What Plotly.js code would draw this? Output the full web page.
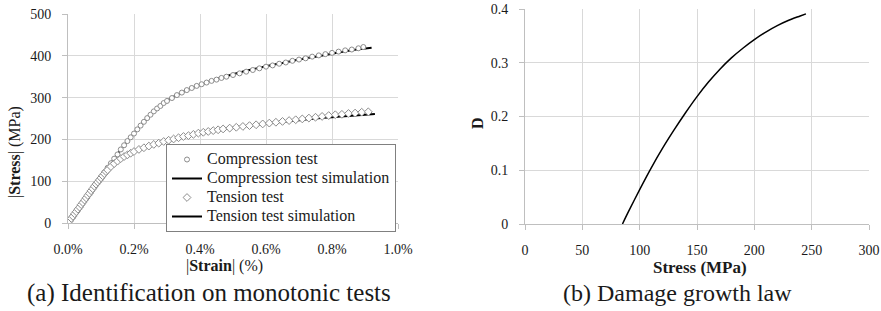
<!DOCTYPE html>
<html><head><meta charset="utf-8">
<script src="https://cdn.plot.ly/plotly-3.0.1.min.js"></script>
<style>html,body{margin:0;padding:0;background:#fff}</style>
</head><body><div id="chart" style="width:881px;height:311px"></div>
<script>
// ---- Data ----
const compTestStrain = [0.000,0.005,0.010,0.015,0.020,0.025,0.030,0.035,0.040,0.045,0.050,0.055,0.060,0.065,0.070,0.075,0.080,0.085,0.090,0.095,0.100,0.110,0.120,0.130,0.140,0.150,0.160,0.170,0.180,0.190,0.200,0.210,0.220,0.230,0.240,0.250,0.260,0.270,0.280,0.290,0.300,0.315,0.330,0.345,0.360,0.375,0.390,0.405,0.420,0.435,0.450,0.465,0.480,0.500,0.520,0.540,0.560,0.580,0.600,0.620,0.640,0.660,0.680,0.700,0.720,0.740,0.760,0.780,0.800,0.820,0.840,0.860,0.880,0.895];
const compTestStress = [0,5,11,17,22,28,33,39,44,50,55,61,66,72,77,83,88,94,99,104,110,121,132,143,154,164,176,186,196,205,214,224,233,242,251,259,267,274,280,287,292,299,306,312,318,323,328,332,336,340,343,347,350,354,358,362,366,370,374,377,381,384,388,391,394,398,401,404,407,410,413,415,418,421];
const compSimStrain = [0,0.05,0.10,0.15,0.20,0.25,0.30,0.35,0.40,0.45,0.50,0.55,0.60,0.65,0.70,0.75,0.80,0.85,0.92];
const compSimStress = [0,55,110,165,215,258,292,314,330,344,356,366,375,383,391,398,405,412,419];
const tensTestStrain = [0,0.005,0.01,0.015,0.02,0.025,0.03,0.035,0.04,0.045,0.05,0.055,0.06,0.065,0.07,0.075,0.08,0.085,0.09,0.095,0.10,0.105,0.11,0.115,0.12,0.13,0.14,0.15,0.16,0.17,0.18,0.19,0.20,0.215,0.23,0.245,0.26,0.275,0.29,0.305,0.32,0.335,0.35,0.365,0.38,0.395,0.41,0.425,0.44,0.455,0.47,0.49,0.51,0.53,0.55,0.57,0.59,0.61,0.63,0.65,0.67,0.69,0.71,0.73,0.75,0.77,0.79,0.81,0.83,0.85,0.87,0.89,0.91];
const tensTestStress = [0,5,11,16,22,27,33,38,44,49,55,60,66,71,77,82,88,93,98,103,108,113,118,123,127,135,142,148,154,159,163,167,171,176,180,184,188,191,195,198,201,204,207,209,212,215,217,219,221,223,225,227,229,231,233,235,237,239,241,243,245,247,249,251,253,255,257,259,260,262,263,265,266];
const tensSimStrain = [0,0.05,0.10,0.12,0.14,0.16,0.18,0.20,0.25,0.30,0.35,0.40,0.45,0.50,0.55,0.60,0.65,0.70,0.75,0.80,0.85,0.93];
const tensSimStress = [0,55,108,125,140,152,162,170,184,196,206,214,221,228,233,238,242,246,250,253,256,261];
const damageStress = [85,90,100,110,120,130,140,150,160,170,180,190,200,210,220,230,240,245];
const damageD = [0,0.022,0.064,0.104,0.141,0.175,0.207,0.237,0.264,0.288,0.309,0.327,0.343,0.357,0.369,0.379,0.387,0.391];
const legendNames = ['Compression test','Compression test simulation','Tension test','Tension test simulation'];
const captions = ['(a) Identification on monotonic tests','(b) Damage growth law'];

// ---- Layout helpers ----
const W = 881, H = 311;
const px = x => x / W, py = y => 1 - y / H;
const FONT = 'Liberation Serif';
const GRID = '#d9d9d9', AX = '#bfbfbf', TXT = '#1a1a1a';
const legName = s => '<span style="font-size:16px">' + s + '</span>';

const mk = {color:'#fff', size:5, line:{color:'#8c8c8c', width:1}};
const data = [
  {x:compSimStrain, y:compSimStress, mode:'lines', name:legName(legendNames[1]), line:{color:'#000', width:2, shape:'spline', smoothing:0.6}, legendrank:2, xaxis:'x', yaxis:'y'},
  {x:tensSimStrain, y:tensSimStress, mode:'lines', name:legName(legendNames[3]), line:{color:'#000', width:2, shape:'spline', smoothing:0.6}, legendrank:4, xaxis:'x', yaxis:'y'},
  {x:compTestStrain, y:compTestStress, mode:'markers', name:legName(legendNames[0]), marker:Object.assign({symbol:'circle'}, mk), legendrank:1, xaxis:'x', yaxis:'y'},
  {x:tensTestStrain, y:tensTestStress, mode:'markers', name:legName(legendNames[2]), marker:Object.assign({symbol:'diamond'}, mk, {size:6}), legendrank:3, xaxis:'x', yaxis:'y'},
  {x:damageStress, y:damageD, mode:'lines', showlegend:false, line:{color:'#000', width:1.5, shape:'spline', smoothing:0.8}, xaxis:'x2', yaxis:'y2'}
];

const axBase = {showgrid:true, gridcolor:GRID, gridwidth:1, showline:true, linecolor:AX, linewidth:1,
  ticks:'outside', ticklen:5, tickcolor:AX, zeroline:false, ticklabelstandoff:8, tickfont:{family:FONT, size:14, color:TXT}};

const ann = (text, x, y, size, angle) => ({text, x:px(x), y:py(y), xref:'paper', yref:'paper', xanchor:'center', yanchor:'middle',
  showarrow:false, textangle:angle || 0, font:{family:FONT, size, color:TXT}});

const layout = {
  width:W, height:H, margin:{l:0,r:0,t:0,b:0}, paper_bgcolor:'#fff', plot_bgcolor:'#fff',
  font:{family:FONT, color:TXT},
  xaxis:Object.assign({}, axBase, {domain:[px(68), px(398)], range:[0,1], dtick:0.2, tickformat:'.1f', ticksuffix:'%', anchor:'y'}),
  yaxis:Object.assign({}, axBase, {domain:[py(223), py(14)], range:[0,500], dtick:100, anchor:'x'}),
  xaxis2:Object.assign({}, axBase, {domain:[px(525), px(869)], range:[0,300], dtick:50, anchor:'y2'}),
  yaxis2:Object.assign({}, axBase, {domain:[py(224), py(9)], range:[0,0.4], dtick:0.1, anchor:'x2'}),
  showlegend:true,
  legend:{x:px(166), y:py(144), xanchor:'left', yanchor:'top', bgcolor:'#fff', bordercolor:'#808080', borderwidth:1,
    font:{family:FONT, size:11, color:TXT}, traceorder:'normal', tracegroupgap:0, itemwidth:30},
  annotations:[
    ann('|<b>Stress</b>| (MPa)', 15, 152, 16, -90),
    ann('|<b>Strain</b>| (%)', 224, 266, 16),
    ann('<b>D</b>', 477, 123, 16, -90),
    ann('<b>Stress (MPa)</b>', 700, 267, 17),
    ann(captions[0], 209, 293, 25),
    ann(captions[1], 677, 293, 24)
  ]
};
Plotly.newPlot('chart', data, layout, {staticPlot:true, displayModeBar:false});
</script></body></html>
